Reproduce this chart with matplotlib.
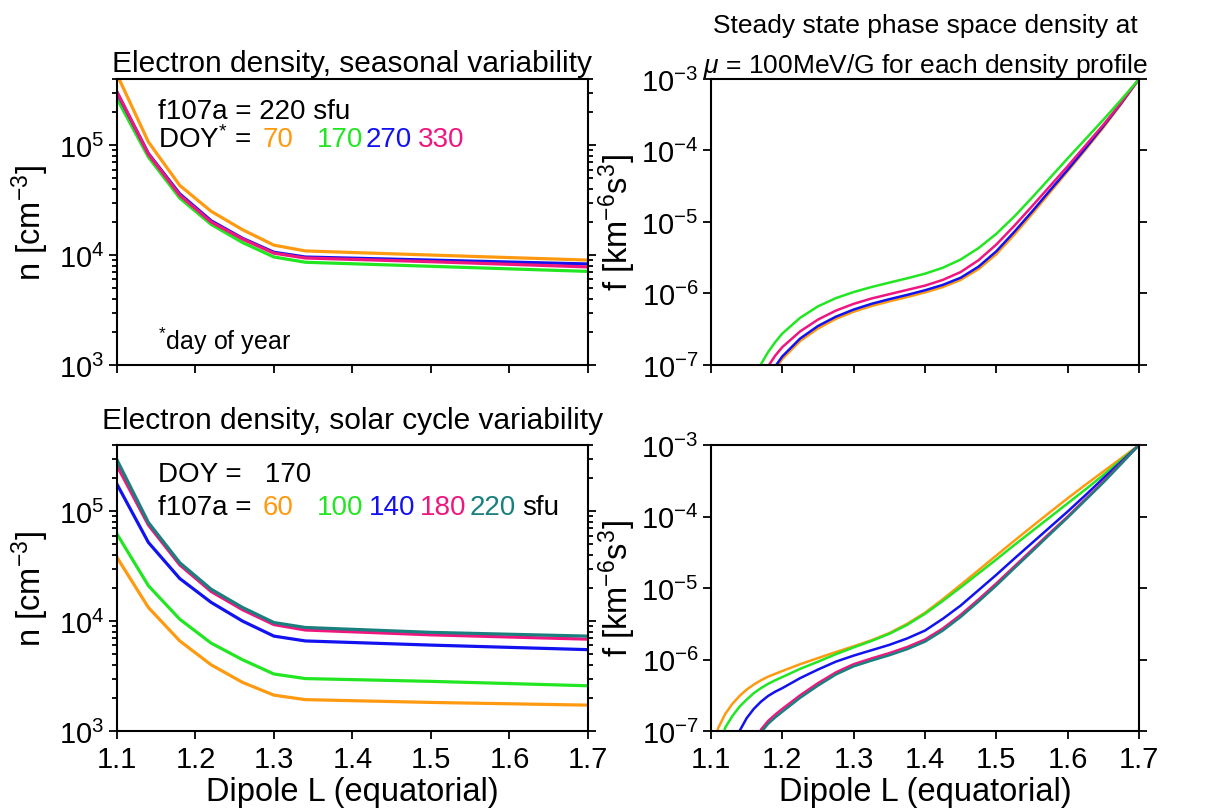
import numpy as np
import matplotlib
matplotlib.use('Agg')
import matplotlib.pyplot as plt
from matplotlib.ticker import LogLocator, NullLocator, NullFormatter

plt.rcParams['font.family'] = ['Liberation Sans', 'DejaVu Sans']
plt.rcParams['mathtext.fontset'] = 'custom'
plt.rcParams['mathtext.rm'] = 'Liberation Sans'
plt.rcParams['mathtext.it'] = 'Liberation Sans:italic'
plt.rcParams['mathtext.bf'] = 'Liberation Sans:bold'

# -- colours --
c_orange = '#FF9A10'
c_green = '#22E622'
c_blue = '#1212F0'
c_pink = '#F0167F'
c_teal = '#1A7F7F'

# -- electron density profiles, n [cm^-3] vs L --
L_n = [1.10, 1.14, 1.18, 1.22, 1.26, 1.30, 1.34, 1.50, 1.70]

# seasonal, f107a = 220
n_doy70 = [4.4e5, 1.07e5, 4.3e4, 2.5e4, 1.7e4, 1.23e4, 1.09e4, 1.0e4, 9.0e3]
n_doy170 = [2.65e5, 7.8e4, 3.3e4, 1.9e4, 1.3e4, 9.6e3, 8.6e3, 7.9e3, 7.1e3]
n_doy270 = [3.0e5, 8.4e4, 3.6e4, 2.05e4, 1.42e4, 1.06e4, 9.6e3, 9.0e3, 8.3e3]
n_doy330 = [3.05e5, 8.3e4, 3.5e4, 2.0e4, 1.4e4, 1.04e4, 9.4e3, 8.7e3, 7.8e3]

# solar cycle, DOY = 170
n_f60 = [3.8e4, 1.33e4, 6.6e3, 4.0e3, 2.77e3, 2.12e3, 1.93e3, 1.82e3, 1.72e3]
n_f100 = [6.2e4, 2.1e4, 1.04e4, 6.3e3, 4.45e3, 3.3e3, 3.0e3, 2.83e3, 2.58e3]
n_f140 = [1.76e5, 5.2e4, 2.44e4, 1.48e4, 1.0e4, 7.3e3, 6.6e3, 6.05e3, 5.5e3]
n_f180 = [2.6e5, 7.5e4, 3.25e4, 1.86e4, 1.27e4, 9.3e3, 8.3e3, 7.5e3, 6.85e3]
n_f220 = [2.93e5, 7.9e4, 3.4e4, 1.95e4, 1.33e4, 9.7e3, 8.75e3, 7.9e3, 7.3e3]

# -- steady state PSD, log10 f [km^-6 s^3] vs L --
L_f = [1.10, 1.11, 1.12, 1.13, 1.14, 1.15, 1.16, 1.17, 1.18, 1.19, 1.20,
       1.225, 1.25, 1.275, 1.30, 1.325, 1.35, 1.375, 1.40, 1.425, 1.45,
       1.475, 1.50, 1.525, 1.55, 1.575, 1.60, 1.625, 1.65, 1.675, 1.70]
nan = np.nan

# seasonal
lf_doy70 = [nan, nan, nan, nan, nan, nan, nan, nan, -7.26, -7.06, -6.915,
            -6.665, -6.49, -6.355, -6.255, -6.175, -6.11, -6.05, -5.985, -5.91, -5.81,
            -5.66, -5.45, -5.18, -4.89, -4.59, -4.29, -3.99, -3.68, -3.35, -3.0]
lf_doy170 = [nan, nan, nan, nan, nan, nan, -7.19, -6.99, -6.82, -6.68, -6.56,
             -6.34, -6.18, -6.065, -5.98, -5.91, -5.848, -5.788, -5.723, -5.64, -5.525,
             -5.365, -5.165, -4.925, -4.66, -4.385, -4.11, -3.84, -3.57, -3.29, -3.0]
lf_doy270 = [nan, nan, nan, nan, nan, nan, nan, nan, -7.2, -7.02, -6.88,
             -6.63, -6.455, -6.325, -6.225, -6.145, -6.08, -6.02, -5.955, -5.88, -5.78,
             -5.625, -5.41, -5.14, -4.855, -4.56, -4.27, -3.97, -3.66, -3.34, -3.0]
lf_doy330 = [nan, nan, nan, nan, nan, nan, nan, -7.2, -7.02, -6.87, -6.75,
             -6.53, -6.365, -6.24, -6.145, -6.07, -6.01, -5.95, -5.89, -5.81, -5.70,
             -5.535, -5.315, -5.055, -4.78, -4.50, -4.22, -3.93, -3.64, -3.33, -3.0]

# solar cycle
lf_f60 = [-7.4, -6.96, -6.76, -6.62, -6.51, -6.42, -6.35, -6.29, -6.24, -6.20, -6.16,
          -6.065, -5.98, -5.895, -5.815, -5.73, -5.63, -5.50, -5.345, -5.155, -4.955,
          -4.75, -4.545, -4.34, -4.14, -3.94, -3.745, -3.555, -3.37, -3.185, -3.0]
lf_f100 = [nan, -7.3, -6.95, -6.79, -6.66, -6.56, -6.47, -6.40, -6.34, -6.29, -6.245,
           -6.13, -6.03, -5.925, -5.83, -5.74, -5.64, -5.515, -5.36, -5.18, -4.99,
           -4.795, -4.60, -4.40, -4.205, -4.01, -3.815, -3.62, -3.42, -3.21, -3.0]
lf_f140 = [nan, nan, nan, -7.4, -7.0, -6.82, -6.69, -6.59, -6.51, -6.45, -6.40,
           -6.26, -6.14, -6.03, -5.945, -5.87, -5.795, -5.705, -5.595, -5.43, -5.245,
           -5.03, -4.815, -4.59, -4.37, -4.15, -3.93, -3.70, -3.465, -3.235, -3.0]
lf_f180 = [nan, nan, nan, nan, nan, nan, -7.25, -6.98, -6.86, -6.77, -6.69,
           -6.50, -6.33, -6.18, -6.065, -5.985, -5.91, -5.825, -5.72, -5.565, -5.375,
           -5.16, -4.935, -4.70, -4.465, -4.23, -4.0, -3.755, -3.51, -3.255, -3.0]
lf_f220 = [nan, nan, nan, nan, nan, nan, -7.4, -7.02, -6.90, -6.81, -6.73,
           -6.535, -6.365, -6.21, -6.095, -6.015, -5.94, -5.855, -5.75, -5.595, -5.405,
           -5.19, -4.965, -4.725, -4.49, -4.25, -4.015, -3.77, -3.525, -3.265, -3.0]

fs_tick = 21
fs_lab = 23.5
fs_title = 21.5
fs_note = 20

fig = plt.figure(figsize=(12.16, 8.12), dpi=100)
ax_n1 = fig.add_axes([0.0962, 0.5493, 0.3873, 0.3522])
ax_n2 = fig.add_axes([0.0962, 0.0985, 0.3873, 0.3522])
ax_f1 = fig.add_axes([0.5847, 0.5493, 0.3520, 0.3522])
ax_f2 = fig.add_axes([0.5847, 0.0985, 0.3520, 0.3522])


def style(ax, minor, bottom_labels):
    ax.set_yscale('log')
    ax.set_xlim(1.1, 1.7)
    ax.set_xticks([1.1, 1.2, 1.3, 1.4, 1.5, 1.6, 1.7])
    ax.xaxis.set_minor_locator(NullLocator())
    ax.yaxis.set_major_locator(LogLocator(base=10, numticks=12))
    if minor:
        ax.yaxis.set_minor_locator(LogLocator(base=10, subs=np.arange(2, 10), numticks=12))
        ax.yaxis.set_minor_formatter(NullFormatter())
    else:
        ax.yaxis.set_minor_locator(NullLocator())
    ax.tick_params(axis='y', which='both', direction='out', left=True, right=True,
                   labelsize=fs_tick, width=1.3, pad=3)
    ax.tick_params(axis='y', which='major', length=6)
    ax.tick_params(axis='y', which='minor', length=3.5)
    ax.tick_params(axis='x', direction='out', length=6, width=1.3, labelsize=fs_tick,
                   top=False, labelbottom=bottom_labels, pad=4)
    for s in ax.spines.values():
        s.set_linewidth(1.5)
    if bottom_labels:
        ax.set_xlabel('Dipole L (equatorial)', fontsize=fs_lab, labelpad=2)


# top left: seasonal density
for y, c in [(n_doy70, c_orange), (n_doy170, c_green), (n_doy270, c_blue), (n_doy330, c_pink)]:
    ax_n1.plot(L_n, y, color=c, lw=2.3)
style(ax_n1, True, False)
ax_n1.set_ylim(1e3, 4e5)
ax_n1.set_ylabel('n [cm$^{-3}$]', fontsize=fs_lab, labelpad=6)
ax_n1.set_title('Electron density, seasonal variability', fontsize=fs_title, pad=6)
t = ax_n1.transAxes
ax_n1.text(0.087, 0.888, 'f107a = 220 sfu', transform=t, fontsize=fs_note, va='center')
ax_n1.text(0.087, 0.79, 'DOY$^{*}$ =', transform=t, fontsize=fs_note, va='center')
for xx, s, c in [(0.31, '70', c_orange), (0.425, '170', c_green),
                 (0.529, '270', c_blue), (0.639, '330', c_pink)]:
    ax_n1.text(xx, 0.79, s, color=c, transform=t, fontsize=fs_note, va='center')
ax_n1.text(0.087, 0.085, '$^{*}$day of year', transform=t, fontsize=fs_note - 2, va='center')

# bottom left: solar cycle density
for y, c in [(n_f60, c_orange), (n_f100, c_green), (n_f140, c_blue),
             (n_f180, c_pink), (n_f220, c_teal)]:
    ax_n2.plot(L_n, y, color=c, lw=2.3)
style(ax_n2, True, True)
ax_n2.set_ylim(1e3, 4e5)
ax_n2.set_ylabel('n [cm$^{-3}$]', fontsize=fs_lab, labelpad=6)
ax_n2.set_title('Electron density, solar cycle variability', fontsize=fs_title, pad=12)
t = ax_n2.transAxes
ax_n2.text(0.087, 0.899, 'DOY =   170', transform=t, fontsize=fs_note, va='center')
ax_n2.text(0.087, 0.783, 'f107a =', transform=t, fontsize=fs_note, va='center')
for xx, s, c in [(0.31, '60', c_orange), (0.425, '100', c_green), (0.535, '140', c_blue),
                 (0.643, '180', c_pink), (0.749, '220', c_teal), (0.86, 'sfu', 'black')]:
    ax_n2.text(xx, 0.783, s, color=c, transform=t, fontsize=fs_note, va='center')

# top right: PSD for seasonal profiles
Lf = np.array(L_f)
for y, c in [(lf_doy70, c_orange), (lf_doy270, c_blue), (lf_doy330, c_pink), (lf_doy170, c_green)]:
    ax_f1.plot(Lf, 10.0 ** np.array(y), color=c, lw=1.8)
style(ax_f1, False, False)
ax_f1.set_ylim(1e-7, 1e-3)
ax_f1.set_ylabel('f [km$^{-6}$s$^{3}$]', fontsize=fs_lab, labelpad=2)
ax_f1.set_title('Steady state phase space density at\n$\\mu$ = 100MeV/G for each density profile',
                fontsize=19, pad=4, linespacing=1.65)

# bottom right: PSD for solar cycle profiles
for y, c in [(lf_f60, c_orange), (lf_f100, c_green), (lf_f140, c_blue),
             (lf_f180, c_pink), (lf_f220, c_teal)]:
    ax_f2.plot(Lf, 10.0 ** np.array(y), color=c, lw=1.8)
style(ax_f2, False, True)
ax_f2.set_ylim(1e-7, 1e-3)
ax_f2.set_ylabel('f [km$^{-6}$s$^{3}$]', fontsize=fs_lab, labelpad=2)

fig.savefig('out.png', dpi=100)
